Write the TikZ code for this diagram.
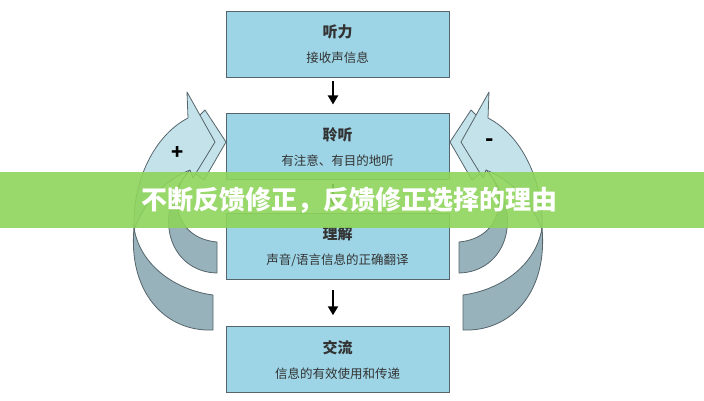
\documentclass[tikz,border=0pt]{standalone}
\usepackage{fontspec}
\setmainfont{Noto Sans CJK SC}
\usepackage{xcolor}
\usepackage{tikz}
\usetikzlibrary{arrows.meta,positioning}

\definecolor{boxblue}{HTML}{9DD5E6}
\definecolor{faceblue}{HTML}{C4E2EA}
\definecolor{backgray}{HTML}{98B2BC}
\definecolor{edgegray}{HTML}{55656B}
\definecolor{bannergreen}{HTML}{8ED45A}

% one curved arrow, drawn on the left; mirrored for the right
\newcommand{\sidearrow}{%
  \filldraw[backface] (134,228) .. controls (128,292) and (165,332) .. (213,330) -- (213,295) .. controls (175,290) and (140,265) .. cycle;
  \filldraw[backface] (190,170) .. controls (150,215) and (170,272) .. (217,273) -- (217,242) .. controls (172,238) and (168,190) .. cycle;
  \filldraw[frontface] (197,118) -- (205,110) -- (226,142) -- (204,180) -- (196,174) -- cycle;
  \filldraw[frontface] (134,230) .. controls (132,180) and (155,135) .. (188,118) -- (187,92) -- (215,142) -- (193,178) -- (190,170) .. controls (165,180) and (145,200) .. cycle;
}

\begin{document}
\begin{tikzpicture}[x=1pt,y=-1pt,
      stagebox/.style={
         draw=edgegray,
         line width=0.9pt,
         fill=boxblue,
         minimum width=223pt,
         minimum height=66pt,
         inner sep=0pt,
         align=center,
         text=black!80,
         font=\fontsize{12.5}{14}\selectfont},
      frontface/.style={fill=faceblue, draw=edgegray, line width=0.8pt, line join=round},
      backface/.style={fill=backgray, draw=edgegray, line width=0.8pt, line join=round},
      myarrow/.style={-{Triangle[length=9pt,width=10pt]}, line width=2pt},
      ]
      \useasboundingbox (0,0) rectangle (704,400);

      \sidearrow
      \begin{scope}[xshift=676pt,xscale=-1]
        \sidearrow
      \end{scope}
      \node[font=\bfseries\fontsize{20}{20}\selectfont] (plus) at (178,153) {+};
      \node[font=\bfseries\fontsize{22}{22}\selectfont] (minus) at (490,143) {-};

      \node[stagebox] (b1) at (337.5,44) {{\bfseries\fontsize{15}{15}\selectfont 听力}\\[11pt]接收声信息};
      \node[stagebox,below=36pt of b1] (b2) {{\bfseries\fontsize{15}{15}\selectfont 聆听}\\[11pt]有注意、有目的地听};
      \node[stagebox,below=33pt of b2] (b3) {{\bfseries\fontsize{15}{15}\selectfont 理解}\\[11pt]声音/语言信息的正确翻译};
      \node[stagebox,below=46pt of b3] (b4) {{\bfseries\fontsize{15}{15}\selectfont 交流}\\[11pt]信息的有效使用和传递};

    \foreach \i/\j/\s/\e in {% start box/end box/gap above/gap below
      b1/b2/4/9,
      b2/b3/4/8,
      b3/b4/10/11}
       \draw [myarrow, shorten <=\s pt, shorten >=\e pt] ([xshift=-4.5pt]\i.south) -- ([xshift=-4.5pt]\j.north);

     % banner across the middle
     \node[fill=bannergreen, fill opacity=0.9, minimum width=704pt, minimum height=56pt, inner sep=0pt] (band) at (352,200) {};
     \node[text=white, font=\bfseries\fontsize{26}{26}\selectfont] (title) at (349,200) {不断反馈修正，反馈修正选择的理由};
    \end{tikzpicture}
\end{document}
